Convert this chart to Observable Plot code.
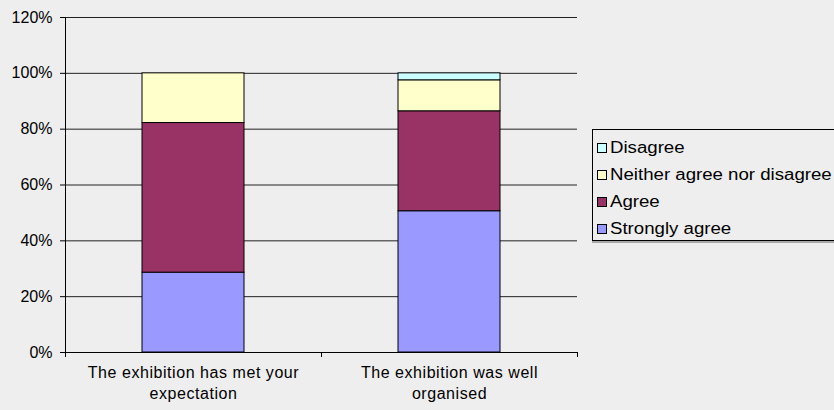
<!DOCTYPE html>
<html>
<head>
<meta charset="utf-8">
<script src="https://cdn.jsdelivr.net/npm/d3@7"></script>
<script src="https://cdn.jsdelivr.net/npm/@observablehq/plot@0.6"></script>
<style>
  body { margin: 0; background: #eeeeee; font-family: "Liberation Sans", Arial, sans-serif; }
  #chart { position: relative; width: 834px; height: 410px; overflow: hidden; background: #eeeeee; }
  #chart svg { display: block; }
  #chart svg g[aria-label="x-axis tick label"] text { letter-spacing: 0.55px; }
  .legend {
    position: absolute; left: 592px; top: 129px; width: 270px; height: 110px;
    border: 1px solid #000; background: #eeeeee; box-shadow: 0 2px 0 #a8a8a8;
  }
  .item { position: absolute; left: 4px; height: 20px; display: flex; align-items: center; }
  .sw { width: 8px; height: 8px; border: 1px solid #000; margin-right: 3px; flex: none; }
  .lbl { display: inline-block; font-size: 16px; color: #000; transform: scaleX(1.165); transform-origin: left center; white-space: nowrap; }
</style>
</head>
<body>
<div id="chart"></div>
<script>
// Survey answers per statement, as shares of respondents
const categories = ["The exhibition has met your expectation", "The exhibition was well organised"];
const tickLabels = ["The exhibition has met your\nexpectation", "The exhibition was well\norganised"];
const series = ["Strongly agree", "Agree", "Neither agree nor disagree", "Disagree"];
const colors = ["#9999ff", "#993366", "#ffffcc", "#ccffff"];
const stronglyAgree = [0.286, 0.506];
const agree = [0.536, 0.358];
const neither = [0.178, 0.111];
const disagree = [0, 0.025];
const yTicks = [0, 0.2, 0.4, 0.6, 0.8, 1.0, 1.2];

const values = [stronglyAgree, agree, neither, disagree];
const rows = series.flatMap((s, i) =>
  categories.map((c, j) => ({category: c, series: s, value: values[i][j]}))
);

// Left axis line plus tick marks on the category boundaries
function categoryFrame(index, scales, channels, dimensions) {
  const {marginLeft} = dimensions;
  const x = scales.x, y = scales.y;
  const step = x(categories[1]) - x(categories[0]);
  const y0 = y(0), yTop = y(yTicks[yTicks.length - 1]);
  const g = d3.create("svg:g").attr("stroke", "#000").attr("fill", "none");
  g.append("line")
    .attr("x1", marginLeft + 0.5).attr("x2", marginLeft + 0.5)
    .attr("y1", yTop).attr("y2", y0 + 5);
  for (let k = 0; k <= categories.length; ++k) {
    const px = Math.round(marginLeft + k * step) + 0.5;
    g.append("line").attr("x1", px).attr("x2", px).attr("y1", y0).attr("y2", y0 + 5);
  }
  return g.node();
}

const chart = Plot.plot({
  width: 834,
  height: 410,
  marginLeft: 65,
  marginRight: 257,
  marginTop: 17,
  marginBottom: 58,
  style: {background: "transparent", fontFamily: "'Liberation Sans', Arial, sans-serif", fontSize: "16px", color: "#000"},
  x: {domain: categories, paddingInner: 0.6, paddingOuter: 0.3, label: null},
  y: {domain: [0, 1.2], label: null},
  color: {domain: series, range: colors},
  marks: [
    Plot.gridY(yTicks, {stroke: "#222", strokeOpacity: 1}),
    Plot.barY(rows, {
      x: "category", y: "value", fill: "series",
      stroke: "#000", strokeWidth: 1,
      filter: (d) => d.value > 0
    }),
    Plot.axisY(yTicks, {tickFormat: d3.format(".0%"), tickSize: 5, tickPadding: 8, fontSize: 16, stroke: "#000", label: null}),
    Plot.axisX({
      tickSize: 0, tickPadding: 11, fontSize: 16, lineHeight: 1.3,
      tickFormat: (d) => tickLabels[categories.indexOf(d)], label: null
    }),
    Plot.ruleY([0], {stroke: "#000"}),
    categoryFrame
  ]
});
document.getElementById("chart").appendChild(chart);

// Legend, listed top-down in reverse stacking order
const legend = document.createElement("div");
legend.className = "legend";
series.slice().reverse().forEach((s, i) => {
  const item = document.createElement("div");
  item.className = "item";
  item.style.top = (8 + i * 27) + "px";
  const sw = document.createElement("span");
  sw.className = "sw";
  sw.style.background = colors[series.indexOf(s)];
  const lbl = document.createElement("span");
  lbl.className = "lbl";
  lbl.textContent = s;
  item.appendChild(sw);
  item.appendChild(lbl);
  legend.appendChild(item);
});
document.getElementById("chart").appendChild(legend);
</script>
</body>
</html>
